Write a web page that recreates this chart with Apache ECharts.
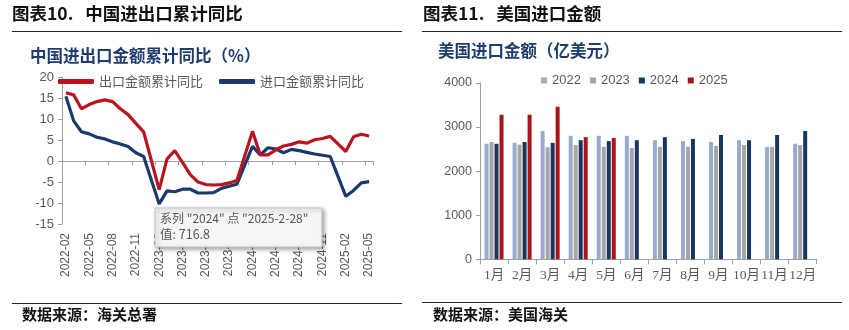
<!DOCTYPE html>
<html>
<head>
<meta charset="utf-8">
<script src="https://cdn.jsdelivr.net/npm/echarts@6/dist/echarts.min.js"></script>
<style>
html,body{margin:0;padding:0;background:#fff;}
#c{width:849px;height:330px;}
</style>
</head>
<body>
<div id="c"></div>
<script>
// ---- Left chart: China cumulative YoY (%) ----
const months = [
  '2022-02','2022-03','2022-04','2022-05','2022-06','2022-07','2022-08','2022-09','2022-10','2022-11','2022-12',
  '2023-01','2023-02','2023-03','2023-04','2023-05','2023-06','2023-07','2023-08','2023-09','2023-10','2023-11','2023-12',
  '2024-01','2024-02','2024-03','2024-04','2024-05','2024-06','2024-07','2024-08','2024-09','2024-10','2024-11','2024-12',
  '2025-01','2025-02','2025-03','2025-04','2025-05'
];
const exportYoY = [
  16.3, 15.8, 12.5, 13.5, 14.2, 14.6, 14.2, 12.5, 11.1, 9.0, 7.0,
  null, -6.8, 0.5, 2.5, -0.3, -3.2, -5.0, -5.6, -5.7, -5.6, -5.2, -4.6,
  null, 7.1, 1.5, 1.5, 2.7, 3.6, 4.0, 4.6, 4.3, 5.1, 5.4, 5.9,
  null, 2.3, 5.8, 6.4, 6.0
];
const importYoY = [
  15.5, 9.6, 7.0, 6.5, 5.7, 5.3, 4.6, 4.1, 3.5, 2.0, 1.1,
  null, -10.2, -7.1, -7.3, -6.7, -6.7, -7.6, -7.6, -7.5, -6.5, -6.0, -5.5,
  null, 3.5, 1.5, 3.2, 2.9, 2.0, 2.8, 2.5, 2.1, 1.7, 1.4, 1.1,
  null, -8.4, -7.0, -5.2, -4.9
];
const leftSeriesNames = ['出口金额累计同比', '进口金额累计同比'];

// ---- Right chart: US imports (亿美元) ----
const monthLabels = ['1月','2月','3月','4月','5月','6月','7月','8月','9月','10月','11月','12月'];
const usYears = ['2022','2023','2024','2025'];
const us2022 = [2620, 2640, 2910, 2800, 2800, 2800, 2700, 2680, 2660, 2700, 2550, 2620];
const us2023 = [2660, 2600, 2540, 2590, 2550, 2520, 2550, 2550, 2570, 2590, 2550, 2590];
const us2024 = [2620, 2660, 2640, 2700, 2680, 2700, 2770, 2730, 2820, 2700, 2820, 2910];
const us2025 = [3280, 3280, 3460, 2770, 2750];

const RED = '#BA1420', NAVY = '#1B3A6B';
const barColors = ['#97ABCD', '#A6A6A6', '#17375E', '#A8141C'];
const axisGray = '#A0A0A0', labelGray = '#595959';
const cjk = '"Noto Sans CJK SC", sans-serif';
const num = '"Liberation Sans", Arial, sans-serif';

const chart = echarts.init(document.getElementById('c'), null, {renderer: 'canvas'});

const usData = [us2022, us2023, us2024, us2025];

const option = {
  animation: false,
  backgroundColor: '#fff',
  grid: [
    {left: 62, top: 77.3, width: 311, height: 146.7, outerBoundsMode: 'none', containLabel: false},
    {left: 480, top: 82.9, width: 336.7, height: 176.4, outerBoundsMode: 'none', containLabel: false}
  ],
  legend: [
    {
      data: leftSeriesNames,
      left: 53, top: 70,
      itemWidth: 36, itemHeight: 5, itemGap: 16,
      icon: 'roundRect',
      textStyle: {fontFamily: cjk, fontSize: 13, color: labelGray}
    },
    {
      data: usYears,
      left: 536, top: 69,
      itemWidth: 6, itemHeight: 6, itemGap: 9,
      icon: 'rect',
      textStyle: {fontFamily: num, fontSize: 13, color: labelGray}
    }
  ],
  xAxis: [
    {
      gridIndex: 0, type: 'category', data: months, boundaryGap: true,
      axisLine: {onZero: true, lineStyle: {color: axisGray, width: 1}},
      axisTick: {show: true, interval: 2, length: 4, lineStyle: {color: axisGray}},
      axisLabel: {show: false}
    },
    {
      gridIndex: 0, type: 'category', data: months, boundaryGap: true, position: 'bottom',
      axisLine: {show: false, onZero: false},
      axisTick: {show: false},
      axisLabel: {interval: 2, rotate: 90, margin: 9, fontFamily: num, fontSize: 12, color: labelGray}
    },
    {
      gridIndex: 1, type: 'category', data: monthLabels, boundaryGap: true,
      axisLine: {lineStyle: {color: axisGray, width: 1}},
      axisTick: {show: true, length: 5, lineStyle: {color: axisGray}},
      axisLabel: {interval: 0, margin: 9, fontFamily: '"Liberation Serif", "Noto Sans CJK SC", serif', fontSize: 13.5, color: labelGray}
    }
  ],
  yAxis: [
    {
      gridIndex: 0, type: 'value', min: -15, max: 20, interval: 5,
      axisLine: {show: true, lineStyle: {color: axisGray}},
      axisTick: {show: true, length: 4, lineStyle: {color: axisGray}},
      splitLine: {show: false},
      axisLabel: {margin: 8, fontFamily: num, fontSize: 13, color: labelGray, formatter: v => String(v)}
    },
    {
      gridIndex: 1, type: 'value', min: 0, max: 4000, interval: 1000,
      axisLine: {show: true, lineStyle: {color: axisGray}},
      axisTick: {show: true, length: 4, lineStyle: {color: axisGray}},
      splitLine: {show: false},
      axisLabel: {margin: 8, fontFamily: num, fontSize: 12.5, color: labelGray, formatter: v => String(v)}
    }
  ],
  series: [
    {
      name: leftSeriesNames[0], type: 'line', xAxisIndex: 0, yAxisIndex: 0,
      data: exportYoY, connectNulls: true, symbol: 'none',
      lineStyle: {color: RED, width: 3.2}, itemStyle: {color: RED}, z: 3
    },
    {
      name: leftSeriesNames[1], type: 'line', xAxisIndex: 0, yAxisIndex: 0,
      data: importYoY, connectNulls: true, symbol: 'none',
      lineStyle: {color: NAVY, width: 3.2}, itemStyle: {color: NAVY}, z: 2
    }
  ].concat(usYears.map((y, i) => ({
    name: y, type: 'bar', xAxisIndex: 2, yAxisIndex: 1,
    data: usData[i], barWidth: 4, barGap: '25%',
    itemStyle: {color: barColors[i]}
  }))),
  graphic: [
    // Left header
    {type: 'text', left: 12, top: 5, style: {text: '图表10.   中国进出口累计同比', fontFamily: cjk, fontWeight: 'bold', fontSize: 17.5, fill: '#111'}},
    {type: 'line', shape: {x1: 12, y1: 31.5, x2: 402, y2: 31.5}, style: {stroke: '#1c2833', lineWidth: 1}},
    {type: 'text', left: 30, top: 47, style: {text: '中国进出口金额累计同比（%）', fontFamily: cjk, fontWeight: 'bold', fontSize: 16.5, fill: '#1F3C6E'}},
    {type: 'line', shape: {x1: 12, y1: 303.5, x2: 402, y2: 303.5}, style: {stroke: '#1c2833', lineWidth: 1}},
    {type: 'text', left: 22, top: 307, style: {text: '数据来源：海关总署', fontFamily: cjk, fontWeight: 'bold', fontSize: 15, fill: '#111'}},
    // Right header
    {type: 'text', left: 423, top: 5, style: {text: '图表11.   美国进口金额', fontFamily: cjk, fontWeight: 'bold', fontSize: 17.5, fill: '#111'}},
    {type: 'line', shape: {x1: 422, y1: 31.5, x2: 842, y2: 31.5}, style: {stroke: '#1c2833', lineWidth: 1}},
    {type: 'text', left: 438, top: 42, style: {text: '美国进口金额（亿美元）', fontFamily: cjk, fontWeight: 'bold', fontSize: 16.5, fill: '#1F3C6E'}},
    {type: 'line', shape: {x1: 422, y1: 302.5, x2: 842, y2: 302.5}, style: {stroke: '#1c2833', lineWidth: 1}},
    {type: 'text', left: 433, top: 307, style: {text: '数据来源：美国海关', fontFamily: cjk, fontWeight: 'bold', fontSize: 15, fill: '#111'}},
    // Captured tooltip box
    {
      type: 'group', z: 100,
      children: [
        {type: 'rect', z: 100, shape: {x: 155, y: 208, width: 167, height: 39},
          style: {fill: '#F6F6F6', stroke: '#C4C4C4', lineWidth: 1, shadowBlur: 4, shadowOffsetX: 2, shadowOffsetY: 2, shadowColor: 'rgba(0,0,0,0.35)'}},
        {type: 'text', z: 101, x: 160, y: 212, style: {text: '系列 "2024" 点 "2025-2-28"', fontFamily: cjk, fontSize: 12, fill: '#555'}},
        {type: 'text', z: 101, x: 160, y: 228, style: {text: '值: 716.8', fontFamily: cjk, fontSize: 12.5, fill: '#555'}}
      ]
    }
  ]
};
chart.setOption(option);
</script>
</body>
</html>
